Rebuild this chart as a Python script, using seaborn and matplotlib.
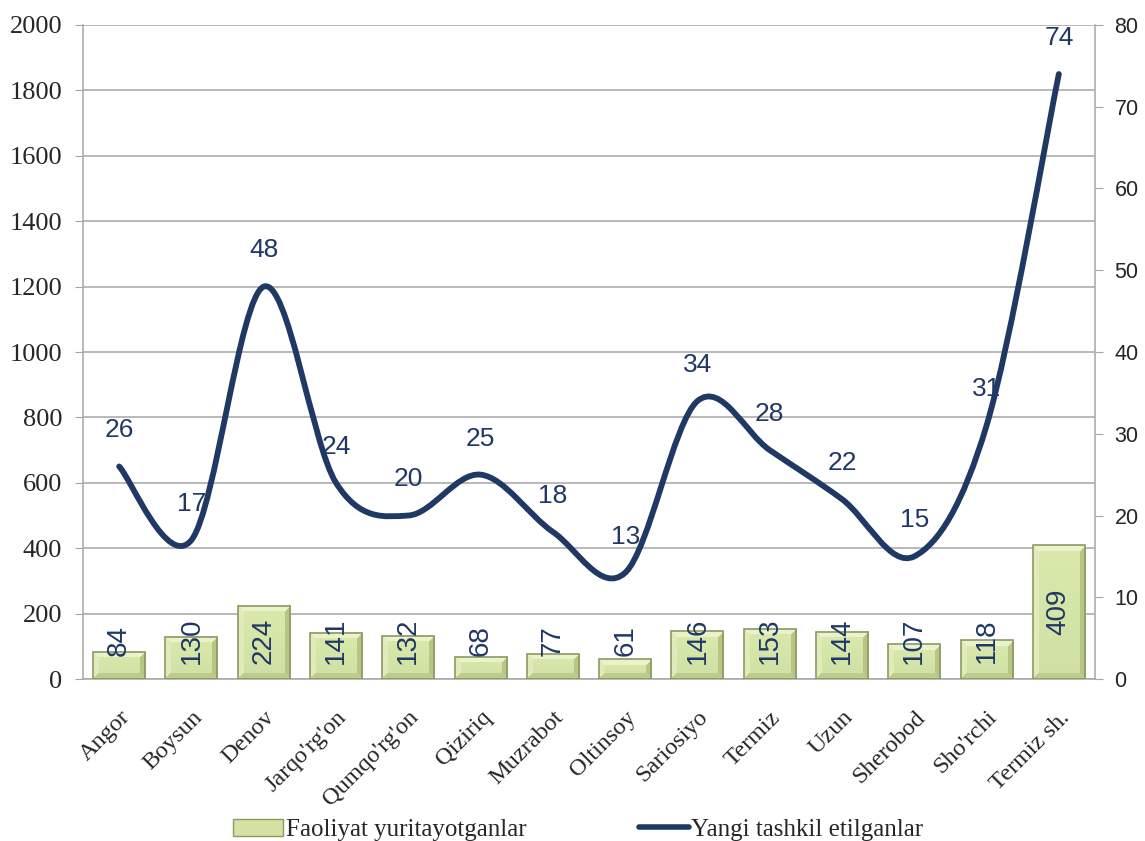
import numpy as np
import pandas as pd
import seaborn as sns
import matplotlib.pyplot as plt
from matplotlib.path import Path
from matplotlib.patches import PathPatch, Patch
from matplotlib.lines import Line2D

tumanlar = ["Angor", "Boysun", "Denov", "Jarqo'rg'on", "Qumqo'rg'on", "Qiziriq", "Muzrabot",
            "Oltinsoy", "Sariosiyo", "Termiz", "Uzun", "Sherobod", "Sho'rchi", "Termiz sh."]
faoliyat = [84, 130, 224, 141, 132, 68, 77, 61, 146, 153, 144, 107, 118, 409]
yangi = [26, 17, 48, 24, 20, 25, 18, 13, 34, 28, 22, 15, 31, 74]

navy = "#1f3864"
grey = "#a6a6a6"
bar_face = "#d3e1a3"
bar_edge = "#8c9a62"

sns.set_style("white")
plt.rcParams['font.family'] = ['Liberation Serif', 'DejaVu Serif']

df = pd.DataFrame({'Tuman': tumanlar, 'Faoliyat': faoliyat, 'Yangi': yangi})

fig = plt.figure(figsize=(11.45, 8.41), dpi=100)
ax = fig.add_axes([0.0725, 0.1926, 0.8838, 0.7777])
sns.barplot(data=df, x='Tuman', y='Faoliyat', ax=ax, color=bar_face, width=0.72,
            edgecolor=bar_edge, linewidth=1.2, saturation=1, zorder=3)
ax.set_xlim(-0.5, len(tumanlar) - 0.5)
ax.set_ylim(0, 2000)


def bevel_image(w, h, b=6):
    r = np.arange(h)[:, None] * np.ones((1, w))
    c = np.ones((h, 1)) * np.arange(w)[None, :]
    base = np.array([0.84, 0.90, 0.66])
    img = np.ones((h, w, 3)) * base
    # soft vertical shading
    t = (r / max(h - 1, 1))[..., None]
    img = img * (1.02 - 0.05 * t)
    d_top, d_bot, d_left, d_right = r, h - 1 - r, c, w - 1 - c
    dmin = np.minimum.reduce([d_top, d_bot, d_left, d_right])
    side = np.argmin(np.stack([d_top, d_bot, d_left, d_right]), axis=0)
    cols = np.array([[0.92, 0.95, 0.80], [0.74, 0.80, 0.55],
                     [0.88, 0.92, 0.73], [0.72, 0.78, 0.52]])
    mask = dmin < b
    img[mask] = cols[side[mask]]
    return np.clip(img, 0, 1)


fig.canvas.draw()
for patch in ax.patches:
    patch.set_facecolor('none')
    x0, y0 = patch.get_x(), patch.get_y()
    x1, y1 = x0 + patch.get_width(), y0 + patch.get_height()
    (px0, py0), (px1, py1) = ax.transData.transform([(x0, y0), (x1, y1)])
    w, h = max(int(round(px1 - px0)), 2), max(int(round(py1 - py0)), 2)
    ax.imshow(bevel_image(w, h), extent=(x0, x1, y0, y1), origin='upper',
              aspect='auto', zorder=2.5, interpolation='nearest')

ax.set_xlim(-0.5, len(tumanlar) - 0.5)
ax.set_ylim(0, 2000)
ax.set_yticks(range(0, 2001, 200))
ax.yaxis.grid(True, color=grey, linewidth=1.1, zorder=0)
ax.set_axisbelow(True)
ax.set_xlabel('')
ax.set_ylabel('')
for s in ['top', 'right']:
    ax.spines[s].set_visible(False)
for s in ['left', 'bottom']:
    ax.spines[s].set_color(grey)
    ax.spines[s].set_linewidth(1.1)
ax.tick_params(axis='y', length=6, color=grey, labelsize=19, pad=9)
ax.set_xticks(np.arange(-0.5, len(tumanlar), 1), minor=False)
ax.set_xticklabels([])
ax.set_xticks(range(len(tumanlar)), minor=True)
ax.set_xticklabels(tumanlar, minor=True, rotation=45, ha='right', rotation_mode='anchor', fontsize=17.5)
ax.tick_params(axis='x', which='major', length=8, color=grey, direction='out')
ax.tick_params(axis='x', which='minor', length=0, pad=20)

for i, v in enumerate(faoliyat):
    ax.text(i, max(v / 2, 118), str(v), rotation=90, ha='center', va='center',
            fontsize=20, color=navy, family=['Liberation Sans'], zorder=5)

ax2 = ax.twinx()
ax2.set_ylim(0, 80)
ax2.set_yticks(range(0, 81, 10))
for s in ['top', 'left', 'bottom']:
    ax2.spines[s].set_visible(False)
ax2.spines['right'].set_color(grey)
ax2.spines['right'].set_linewidth(1.1)
ax2.tick_params(axis='y', length=6, color=grey, labelsize=15.5, pad=8)
for lab in ax2.get_yticklabels():
    lab.set_family(['Liberation Sans'])

# smoothed line (Catmull-Rom style Bezier through the data points)
xs = np.arange(len(yangi), dtype=float)
ys = np.array(yangi, dtype=float)
verts = [(xs[0], ys[0])]
codes = [Path.MOVETO]
n = len(xs)
for i in range(n - 1):
    p0 = np.array([xs[max(i - 1, 0)], ys[max(i - 1, 0)]])
    p1 = np.array([xs[i], ys[i]])
    p2 = np.array([xs[i + 1], ys[i + 1]])
    p3 = np.array([xs[min(i + 2, n - 1)], ys[min(i + 2, n - 1)]])
    c1 = p1 + (p2 - p0) / 6
    c2 = p2 - (p3 - p1) / 6
    verts += [tuple(c1), tuple(c2), tuple(p2)]
    codes += [Path.CURVE4] * 3
ax2.add_patch(PathPatch(Path(verts, codes), facecolor='none', edgecolor=navy,
                        linewidth=4.2, capstyle='round', joinstyle='round', zorder=4))

for i, v in enumerate(yangi):
    ax2.annotate(str(v), (i, v), xytext=(0, 26), textcoords='offset points',
                 ha='center', va='center', fontsize=19, color=navy, family=['Liberation Sans'])

handles = [Patch(facecolor=bar_face, edgecolor=bar_edge, label='Faoliyat yuritayotganlar'),
           Line2D([0], [0], color=navy, linewidth=4, label='Yangi tashkil etilganlar')]
fig.legend(handles=handles, loc='lower center', bbox_to_anchor=(0.505, -0.027), ncol=2,
           frameon=False, fontsize=18, columnspacing=4.5, handlelength=2.0, handletextpad=0.1)

fig.savefig('out.png', dpi=100)
